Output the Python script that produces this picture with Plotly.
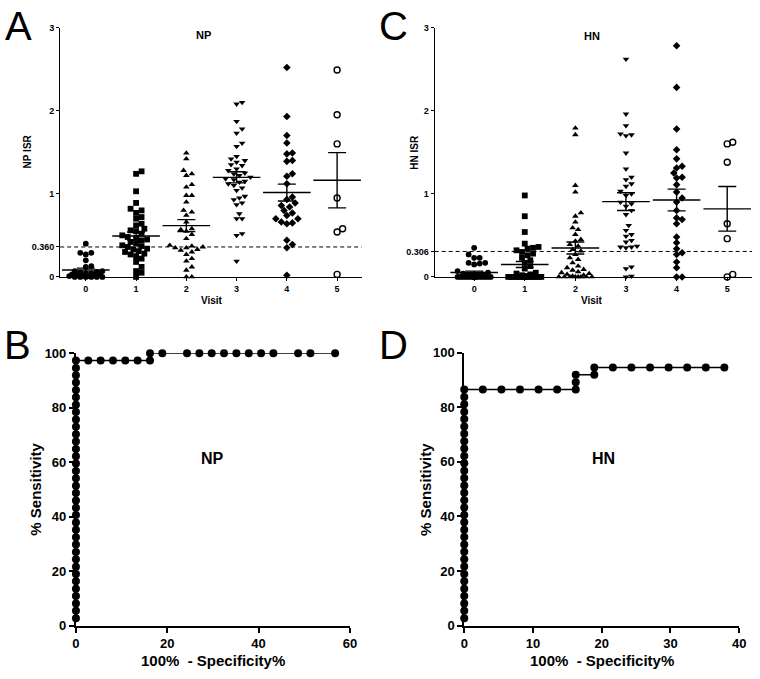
import math
import numpy as np
import plotly.graph_objects as go

W, H = 760, 679
FONT = "Liberation Sans, Arial, sans-serif"

VISITS = [0, 1, 2, 3, 4, 5]
VISIT_SYMBOLS = ["circle", "square", "triangle-up", "triangle-down", "diamond", "circle-open"]

# ISR values per visit
NP_ISR = [
    [0.40, 0.29, 0.27, 0.29, 0.20, 0.13, 0.12, 0.07, 0.07, 0.06, 0.05, 0.04, 0.04,
     0.03, 0.03, 0.02, 0.02, 0.01, 0.01, 0.01, 0.0, 0.0, 0.0, 0.0, 0.0, 0.0],
    [1.27, 1.24, 1.03, 0.89, 0.82, 0.80, 0.77, 0.72, 0.70, 0.64, 0.62, 0.58, 0.56,
     0.55, 0.52, 0.50, 0.48, 0.47, 0.45, 0.44, 0.42, 0.40, 0.38, 0.37, 0.36, 0.34,
     0.33, 0.31, 0.30, 0.28, 0.27, 0.25, 0.22, 0.18, 0.12, 0.07, 0.05, 0.0],
    [1.49, 1.42, 1.28, 1.24, 1.22, 1.11, 1.08, 0.98, 0.98, 0.90, 0.80, 0.78, 0.74,
     0.66, 0.58, 0.57, 0.55, 0.51, 0.46, 0.38, 0.37, 0.36, 0.35, 0.35, 0.33, 0.32,
     0.30, 0.27, 0.22, 0.19, 0.12, 0.08, 0.0, 0.0],
    [2.10, 2.08, 1.87, 1.78, 1.73, 1.61, 1.57, 1.45, 1.42, 1.40, 1.38, 1.35, 1.34,
     1.30, 1.28, 1.25, 1.24, 1.22, 1.20, 1.18, 1.17, 1.15, 1.14, 1.12, 1.10, 1.07,
     1.04, 0.97, 0.95, 0.93, 0.89, 0.87, 0.76, 0.70, 0.70, 0.52, 0.50, 0.19],
    [2.52, 1.93, 1.70, 1.61, 1.49, 1.48, 1.40, 1.39, 1.24, 1.21, 1.12, 0.96, 0.93,
     0.89, 0.86, 0.84, 0.80, 0.77, 0.74, 0.70, 0.70, 0.66, 0.65, 0.64, 0.44, 0.39,
     0.35, 0.02],
    [2.49, 1.95, 1.60, 0.95, 0.58, 0.54, 0.03],
]
HN_ISR = [
    [0.35, 0.27, 0.23, 0.23, 0.17, 0.17, 0.16, 0.15, 0.07, 0.05, 0.04, 0.03, 0.02,
     0.02, 0.01, 0.01, 0.01, 0.0, 0.0, 0.0, 0.0, 0.0, 0.0, 0.0, 0.0, 0.0, 0.0, 0.0,
     0.0, 0.0, 0.0, 0.0, 0.0, 0.0, 0.0, 0.0, 0.0],
    [0.98, 0.73, 0.54, 0.40, 0.36, 0.35, 0.34, 0.32, 0.30, 0.28, 0.26, 0.23, 0.20,
     0.17, 0.13, 0.10, 0.05, 0.04, 0.03, 0.02, 0.01, 0.01, 0.0, 0.0, 0.0, 0.0, 0.0,
     0.0, 0.0, 0.0, 0.0, 0.0, 0.0, 0.0, 0.0, 0.0, 0.0, 0.0, 0.0],
    [1.79, 1.71, 1.10, 1.02, 0.77, 0.73, 0.66, 0.59, 0.57, 0.51, 0.45, 0.43, 0.39,
     0.37, 0.33, 0.31, 0.27, 0.23, 0.21, 0.17, 0.13, 0.11, 0.09, 0.08, 0.06, 0.05,
     0.04, 0.03, 0.02, 0.01, 0.0, 0.0, 0.0, 0.0, 0.0, 0.0, 0.0, 0.0],
    [2.62, 1.96, 1.82, 1.72, 1.71, 1.70, 1.49, 1.30, 1.20, 1.17, 1.12, 1.09, 1.03,
     1.00, 0.98, 0.90, 0.88, 0.85, 0.80, 0.75, 0.62, 0.56, 0.51, 0.49, 0.44, 0.42,
     0.37, 0.36, 0.36, 0.35, 0.12, 0.10, 0.01, 0.0],
    [2.78, 2.28, 1.78, 1.53, 1.42, 1.33, 1.31, 1.25, 1.20, 1.19, 1.11, 1.02, 0.95,
     0.90, 0.80, 0.71, 0.69, 0.64, 0.48, 0.41, 0.34, 0.29, 0.27, 0.18, 0.11, 0.0, 0.0],
    [1.60, 1.62, 1.38, 0.64, 0.46, 0.0, 0.03],
]
NP_CUTOFF = 0.360
HN_CUTOFF = 0.306

# ROC curves (100% - specificity %, sensitivity %)
NP_ROC_FPR = [0.0] * 36 + [2.70, 5.41, 8.11, 10.81, 13.51, 16.22, 16.22, 18.92, 24.32,
                           27.03, 29.73, 32.43, 35.14, 37.84, 40.54, 43.24, 48.65,
                           51.35, 56.76]
NP_ROC_SENS = [2.70, 5.41, 8.11, 10.81, 13.51, 16.22, 18.92, 21.62, 24.32, 27.03, 29.73,
               32.43, 35.14, 37.84, 40.54, 43.24, 45.95, 48.65, 51.35, 54.05, 56.76,
               59.46, 62.16, 64.86, 67.57, 70.27, 72.97, 75.68, 78.38, 81.08, 83.78,
               86.49, 89.19, 91.89, 94.59, 97.30,
               97.30, 97.30, 97.30, 97.30, 97.30, 97.30,
               100, 100, 100, 100, 100, 100, 100, 100, 100, 100, 100, 100, 100]
HN_ROC_FPR = [0.0] * 32 + [2.70, 5.41, 8.11, 10.81, 13.51, 16.22, 16.22, 16.22, 18.92,
                           18.92, 21.62, 24.32, 27.03, 29.73, 32.43, 35.14, 37.84]
HN_ROC_SENS = [2.70, 5.41, 8.11, 10.81, 13.51, 16.22, 18.92, 21.62, 24.32, 27.03, 29.73,
               32.43, 35.14, 37.84, 40.54, 43.24, 45.95, 48.65, 51.35, 54.05, 56.76,
               59.46, 62.16, 64.86, 67.57, 70.27, 72.97, 75.68, 78.38, 81.08, 83.78,
               86.49,
               86.49, 86.49, 86.49, 86.49, 86.49, 86.49, 89.19, 91.89, 91.89,
               94.59, 94.59, 94.59, 94.59, 94.59, 94.59, 94.59, 94.59]


def px(x):
    return x / W


def py(y):
    return 1 - y / H


def swarm(values, px_per_x, px_per_y, diam=5.6, step=2.8, max_off=18.0):
    """Deterministic beeswarm offsets (in visit units) for one column."""
    cand = [0.0]
    k = 1
    while k * step <= max_off:
        cand += [k * step, -k * step]
        k += 1
    placed = []
    offs = [0.0] * len(values)
    for i in sorted(range(len(values)), key=lambda j: values[j]):
        yv = values[i] * px_per_y
        best, best_d, chosen = None, -1.0, None
        for c in cand:
            d = min((math.hypot(c - a, yv - b) for a, b in placed), default=1e9)
            if d >= diam:
                chosen = c
                break
            if d > best_d:
                best_d, best = d, c
        if chosen is None:
            chosen = best
        placed.append((chosen, yv))
        offs[i] = chosen / px_per_x
    return offs


fig = go.Figure()

axis_font = dict(family=FONT, size=9, color="black", weight="bold")
roc_font = dict(family=FONT, size=13, color="black", weight="bold")

# ---------------------------------------------------------------------------
# Dot plots (A, C)
# ---------------------------------------------------------------------------
dot_panels = [
    ("x", "y", NP_ISR, NP_CUTOFF, (57, 363), (-0.51, 5.49)),
    ("x2", "y2", HN_ISR, HN_CUTOFF, (437, 759), (-0.78, 5.49)),
]
for xa, ya, data, cutoff, (xl, xr), xrng in dot_panels:
    ppx = (xr - xl) / (xrng[1] - xrng[0])
    ppy = 255 / 3
    for v, vals, sym in zip(VISITS, data, VISIT_SYMBOLS):
        offs = swarm(vals, ppx, ppy)
        is_open = sym.endswith("open")
        fig.add_trace(go.Scatter(
            x=[v + o for o in offs], y=vals, mode="markers", xaxis=xa, yaxis=ya,
            cliponaxis=False, showlegend=False,
            marker=dict(symbol=sym, size=6 if is_open else 5.8, color="black",
                        line=dict(width=1.4 if is_open else 0, color="black")),
        ))
        arr = np.array(vals)
        mean = arr.mean()
        sem = arr.std(ddof=1) / math.sqrt(len(arr))
        fig.add_trace(go.Scatter(
            x=[v], y=[mean], mode="markers", xaxis=xa, yaxis=ya, showlegend=False,
            cliponaxis=False,
            marker=dict(symbol="line-ew", size=34, line=dict(width=1.4, color="black")),
            error_y=dict(type="data", array=[sem], width=9, thickness=1.4, color="black"),
        ))
    fig.add_shape(type="line", xref=f"{xa} domain", yref=ya, x0=0, x1=1,
                  y0=cutoff, y1=cutoff, line=dict(color="black", width=1, dash="4px,3px"))

# ---------------------------------------------------------------------------
# ROC curves (B, D)
# ---------------------------------------------------------------------------
for xa, ya, fpr, sens in [("x3", "y3", NP_ROC_FPR, NP_ROC_SENS),
                          ("x4", "y4", HN_ROC_FPR, HN_ROC_SENS)]:
    fig.add_trace(go.Scatter(
        x=fpr, y=sens, mode="lines+markers", xaxis=xa, yaxis=ya, cliponaxis=False,
        showlegend=False, line=dict(color="black", width=1.6),
        marker=dict(symbol="circle", size=8, color="black"),
    ))

common = dict(showgrid=False, zeroline=False, showline=True, linecolor="black",
              ticks="outside", tickcolor="black", fixedrange=True)

fig.update_layout(
    width=W, height=H, margin=dict(l=0, r=0, t=0, b=0),
    paper_bgcolor="white", plot_bgcolor="white", showlegend=False,
    font=dict(family=FONT, color="black"),
    xaxis=dict(domain=[px(57), px(363)], range=[-0.51, 5.49], anchor="y",
               tickvals=VISITS, ticklen=3, linewidth=1, tickwidth=1,
               tickfont=axis_font, **common),
    yaxis=dict(domain=[py(276), py(21)], range=[0, 3], anchor="x",
               tickvals=[0, NP_CUTOFF, 1, 2, 3], ticktext=["0", "0.360", "1", "2", "3"],
               ticklen=3, linewidth=1, tickwidth=1, tickfont=axis_font, **common),
    xaxis2=dict(domain=[px(437), px(759)], range=[-0.78, 5.49], anchor="y2",
                tickvals=VISITS, ticklen=3, linewidth=1, tickwidth=1,
                tickfont=axis_font, **common),
    yaxis2=dict(domain=[py(276), py(21)], range=[0, 3], anchor="x2",
                tickvals=[0, HN_CUTOFF, 1, 2, 3], ticktext=["0", "0.306", "1", "2", "3"],
                ticklen=3, linewidth=1, tickwidth=1, tickfont=axis_font, **common),
    xaxis3=dict(domain=[px(73), px(351)], range=[0, 60], anchor="y3",
                tickvals=[0, 20, 40, 60], ticklen=5, linewidth=2, tickwidth=2,
                tickfont=roc_font, **common),
    yaxis3=dict(domain=[py(632.5), py(354)], range=[0, 100], anchor="x3",
                tickvals=[0, 20, 40, 60, 80, 100], ticklen=5, linewidth=2, tickwidth=2,
                tickfont=roc_font, **common),
    xaxis4=dict(domain=[px(467), px(746)], range=[0, 40], anchor="y4",
                tickvals=[0, 10, 20, 30, 40], ticklen=5, linewidth=2, tickwidth=2,
                tickfont=roc_font, **common),
    yaxis4=dict(domain=[py(632.5), py(353.5)], range=[0, 100], anchor="x4",
                tickvals=[0, 20, 40, 60, 80, 100], ticklen=5, linewidth=2, tickwidth=2,
                tickfont=roc_font, **common),
)


def note(text, x, y, size, bold=True, angle=0):
    fig.add_annotation(
        text=f"<b>{text}</b>" if bold else text, x=px(x), y=py(y),
        xref="paper", yref="paper", showarrow=False, textangle=angle,
        xanchor="center", yanchor="middle",
        font=dict(family=FONT, size=size, color="black"),
    )


# panel letters
note("A", 15, 19, 40, bold=False)
note("C", 395, 19, 40, bold=False)
note("B", 14, 346, 40, bold=False)
note("D", 395, 346, 40, bold=False)

# dot plot titles
note("NP", 202, 29, 11)
note("HN", 597, 30, 11)
note("NP ISR", 24, 148, 10, angle=-90)
note("HN ISR", 417, 148, 10, angle=-90)
note("Visit", 211, 300, 10)
note("Visit", 597, 300, 10)

# ROC labels
note("NP", 212, 462, 16)
note("HN", 608, 462, 16)
note("% Sensitivity", 32, 493, 15, angle=-90)
note("% Sensitivity", 427, 493, 15, angle=-90)
note("100%  - Specificity%", 212, 668, 15)
note("100%  - Specificity%", 607, 668, 15)

# drop the default 8px body margin so the figure sits at the page origin
fig.write_html("out.html", config={"displayModeBar": False},
               post_script="document.body.style.margin='0';")
